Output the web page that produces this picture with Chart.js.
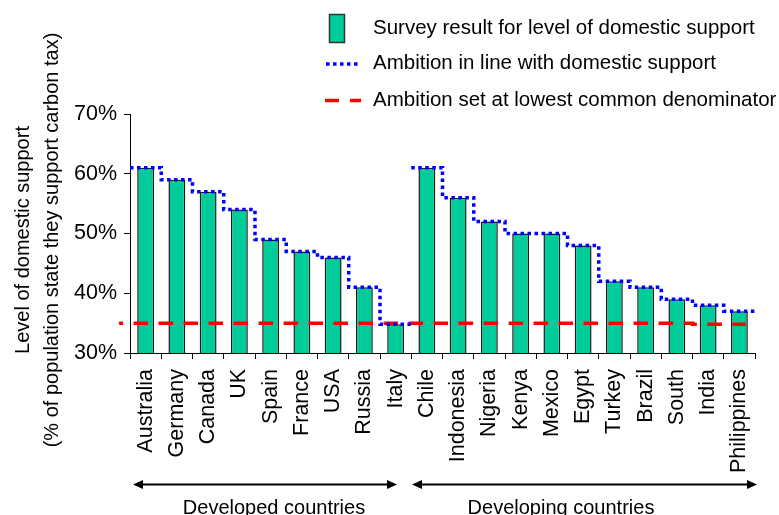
<!DOCTYPE html>
<html><head><meta charset="utf-8">
<script src="https://cdn.jsdelivr.net/npm/chart.js@4/dist/chart.umd.min.js"></script>
<style>html,body{margin:0;padding:0;background:#fff;}</style>
</head><body>
<canvas id="c" width="779" height="515"></canvas>
<script>
// ---- data ----
const countries = ['Australia','Germany','Canada','UK','Spain','France','USA','Russia','Italy',
  'Chile','Indonesia','Nigeria','Kenya','Mexico','Egypt','Turkey','Brazil','South','India','Philippines'];
const groupIndex = [0,0,0,0,0,0,0,0,0, 1,1,1,1,1,1,1,1,1,1,1];
const groupNames = ['Developed countries','Developing countries'];
const surveySupport = [61,59,57,54,49,47,46,41,34.8, 61,56,52,50,50,48,42,41,39,38,37];
const lowestCommon = [35,35,35,35,35,35,35,35,35, 35,35,35,35,35,35,35,35,35,34.8,34.8];
const yTickValues = [30,40,50,60,70];
const legendLabels = ['Survey result for level of domestic support',
  'Ambition in line with domestic support',
  'Ambition set at lowest common denominator'];
const yTitleLines = ['Level of domestic support','(% of population state they support carbon tax)'];

// ---- build step lines from the arrays ----
const FONT = '"Liberation Sans", Arial, sans-serif';
const n = countries.length;
const bluePts = [];
countries.forEach((c,i)=>{
  if (i>0 && groupIndex[i]!==groupIndex[i-1]) bluePts.push({x:i-0.5,y:null});
  bluePts.push({x:i-0.5,y:surveySupport[i]});
  bluePts.push({x:i+0.5,y:surveySupport[i]});
});
const redStartX = -0.85, redEndX = n-0.8;
const redPts = [];
countries.forEach((c,i)=>{
  redPts.push({x: i===0 ? redStartX : i-0.5, y: lowestCommon[i]});
  redPts.push({x: i===n-1 ? redEndX : i+0.5, y: lowestCommon[i]});
});

const annotations = {
  id:'annot',
  afterDraw(chart){
    const ctx = chart.ctx;
    ctx.save();
    // legend
    ctx.fillStyle = '#00CC99';
    ctx.fillRect(329.5,14.5,15,28);
    ctx.strokeStyle = '#333'; ctx.lineWidth = 1.5;
    ctx.strokeRect(329.5,14.5,15,28);
    ctx.lineWidth = 3.5; ctx.strokeStyle = '#0000FF'; ctx.setLineDash([3.5,3.5]);
    ctx.beginPath(); ctx.moveTo(326,64); ctx.lineTo(358,64); ctx.stroke();
    ctx.strokeStyle = '#FF0000'; ctx.setLineDash([14,11]);
    ctx.beginPath(); ctx.moveTo(325,100.5); ctx.lineTo(361,100.5); ctx.stroke();
    ctx.setLineDash([]);
    ctx.fillStyle = '#000'; ctx.font = '20.5px ' + FONT;
    ctx.textAlign = 'left'; ctx.textBaseline = 'middle';
    ctx.fillText(legendLabels[0], 373, 28);
    ctx.fillText(legendLabels[1], 373, 63);
    ctx.fillText(legendLabels[2], 373, 100);
    // y title
    ctx.font = '20px ' + FONT; ctx.textAlign = 'center';
    ctx.save(); ctx.translate(23,240); ctx.rotate(-Math.PI/2); ctx.fillText(yTitleLines[0],0,0); ctx.restore();
    ctx.save(); ctx.translate(52,240); ctx.rotate(-Math.PI/2); ctx.fillText(yTitleLines[1],0,0); ctx.restore();
    // arrows
    function arrow(x1,x2,y){
      ctx.strokeStyle='#000'; ctx.fillStyle='#000'; ctx.lineWidth=2;
      ctx.beginPath(); ctx.moveTo(x1+6,y); ctx.lineTo(x2-6,y); ctx.stroke();
      ctx.beginPath(); ctx.moveTo(x1,y); ctx.lineTo(x1+10,y-4.5); ctx.lineTo(x1+10,y+4.5); ctx.closePath(); ctx.fill();
      ctx.beginPath(); ctx.moveTo(x2,y); ctx.lineTo(x2-10,y-4.5); ctx.lineTo(x2-10,y+4.5); ctx.closePath(); ctx.fill();
    }
    arrow(133,397,484.5);
    arrow(412,757,484.5);
    ctx.fillStyle='#000'; ctx.font='20px ' + FONT; ctx.textAlign='center'; ctx.textBaseline='alphabetic';
    ctx.fillText(groupNames[0], 274, 514);
    ctx.fillText(groupNames[1], 561, 514);
    ctx.restore();
  }
};

new Chart(document.getElementById('c'), {
  data: {
    labels: countries,
    datasets: [
      { type:'line', label:legendLabels[1], data:bluePts, xAxisID:'xl', yAxisID:'y',
        borderColor:'#0000FF', borderWidth:3.5, borderDash:[3.5,3.5], pointRadius:0,
        fill:false, tension:0, spanGaps:false, order:1, borderCapStyle:'butt', clip:false },
      { type:'line', label:legendLabels[2], data:redPts, xAxisID:'xl', yAxisID:'y',
        borderColor:'#FF0000', borderWidth:3.5, borderDash:[14.5,10.5], borderDashOffset:10.5, pointRadius:0,
        fill:false, tension:0, order:2, borderCapStyle:'butt', clip:false },
      { type:'bar', label:legendLabels[0], data:surveySupport, xAxisID:'x', yAxisID:'y',
        backgroundColor:'#00CC99', borderColor:'#1a1a1a', borderWidth:1.5, grouped:false,
        barPercentage:0.54, categoryPercentage:1, order:3 }
    ]
  },
  options: {
    responsive:false, animation:false, devicePixelRatio:1,
    layout:{ padding:{ left:0, right:24, top:114, bottom:0 } },
    plugins:{ legend:{display:false}, tooltip:{enabled:false} },
    scales:{
      x:{ type:'category', offset:true,
          grid:{ drawOnChartArea:false, tickLength:6, color:'#000', offset:true },
          border:{ color:'#000', width:1 },
          ticks:{ minRotation:90, maxRotation:90, autoSkip:false, color:'#000', padding:10,
                  font:{ family:FONT, size:21.5 } },
          afterFit(s){ s.height = 162; } },
      xl:{ type:'linear', display:false, min:-0.5, max:n-0.5 },
      y:{ type:'linear', min:yTickValues[0], max:yTickValues[yTickValues.length-1],
          afterBuildTicks(s){ s.ticks = yTickValues.map(v=>({value:v})); },
          grid:{ drawOnChartArea:false, tickLength:6, color:'#000' },
          border:{ color:'#000', width:1 },
          ticks:{ color:'#000', padding:7, font:{ family:FONT, size:21.5 }, callback:v=>v+'%' },
          afterFit(s){ s.width = 130; } }
    }
  },
  plugins:[annotations]
});
</script>
</body></html>
